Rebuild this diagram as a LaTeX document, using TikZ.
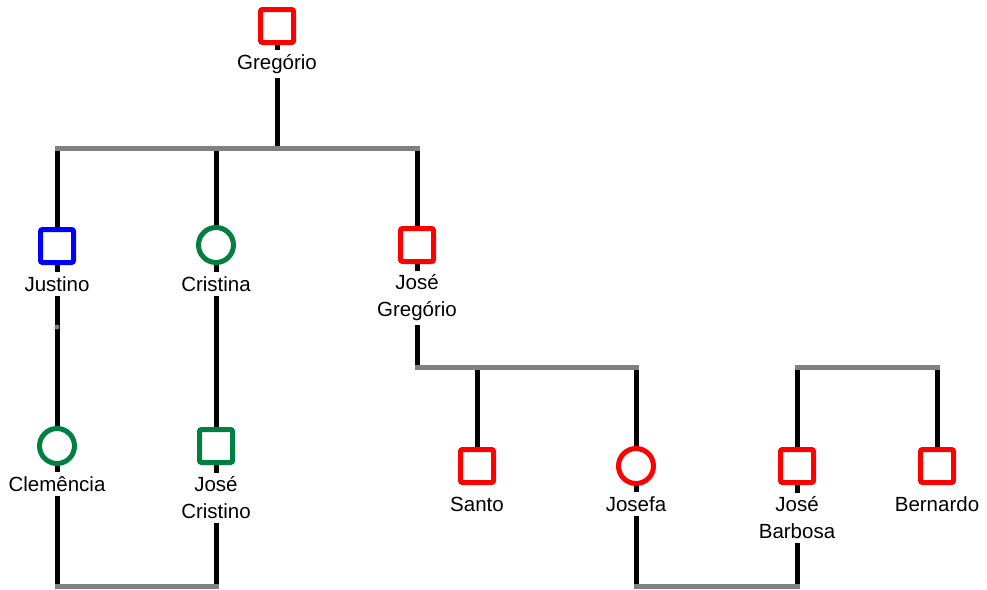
\documentclass[tikz,border=0pt]{standalone}
\usepackage{fontspec}
\setmainfont{Liberation Sans}
\pgfdeclarelayer{background}
\pgfsetlayers{background,main}
\definecolor{kred}{RGB}{255,0,0}
\definecolor{kblue}{RGB}{0,0,255}
\definecolor{kgreen}{RGB}{0,128,64}
\definecolor{kgray}{RGB}{128,128,128}
\begin{document}
\begin{tikzpicture}[x=1pt,y=-1pt,
  male/.style={draw=#1,rectangle,line width=5pt,minimum size=33pt,rounded corners=2pt,fill=white,inner sep=0pt},
  female/.style={draw=#1,circle,line width=5pt,minimum size=35pt,fill=white,inner sep=0pt},
  plabel/.style={fill=white,inner sep=4pt,align=center,font=\fontsize{20.5}{27}\selectfont},
  kin/.style={line width=5pt,black},
  bar/.style={line width=5pt,kgray,line cap=rect}
]
\useasboundingbox (0,0) rectangle (987,589);

% people
\node[male=kred] (G) at (277,26) {};
\node[plabel] (lG) at (277,64) {Gregório};
\node[male=kblue] (J) at (57,246) {};
\node[plabel] (lJ) at (57,284) {Justino};
\node[female=kgreen] (C) at (216,245) {};
\node[plabel] (lC) at (216,284) {Cristina};
\node[male=kred] (JG) at (417,245) {};
\node[plabel] (lJG) at (417,298) {José\\Gregório};
\node[female=kgreen] (Cl) at (57,446) {};
\node[plabel] (lCl) at (57,484) {Clemência};
\node[male=kgreen] (JC) at (216,446) {};
\node[plabel] (lJC) at (216,498) {José\\Cristino};
\node[male=kred] (S) at (477,466) {};
\node[plabel] (lS) at (477,504) {Santo};
\node[female=kred] (Jo) at (636,466) {};
\node[plabel] (lJo) at (636,504) {Josefa};
\node[male=kred] (JB) at (797,466) {};
\node[plabel] (lJB) at (797,518) {José\\Barbosa};
\node[male=kred] (B) at (937,466) {};
\node[plabel] (lB) at (937,504) {Bernardo};

% junctions on the sibling and couple bars
\coordinate (g0) at (277,148);
\coordinate (t1) at (57,148);
\coordinate (t2) at (216,148);
\coordinate (t3) at (417,148);
\coordinate (s1) at (417,367);
\coordinate (s2) at (477,367);
\coordinate (s3) at (636,367);
\coordinate (r1) at (797,367);
\coordinate (r2) at (937,367);
\coordinate (m1) at (57,586);
\coordinate (m2) at (216,586);
\coordinate (m3) at (636,586);
\coordinate (m4) at (797,586);
\coordinate (dot) at (57,327);

\begin{pgfonlayer}{background}
  % descent lines
  \draw[kin] (G.center) -- (g0);
  \draw[kin] (t1) -- (J.center) -- (Cl.center) -- (m1);
  \draw[kin] (t2) -- (C.center) -- (JC.center) -- (m2);
  \draw[kin] (t3) -- (JG.center) -- (s1);
  \draw[kin] (s2) -- (S.center);
  \draw[kin] (s3) -- (Jo.center) -- (m3);
  \draw[kin] (r1) -- (JB.center) -- (m4);
  \draw[kin] (r2) -- (B.center);
  % bars
  \draw[bar] (t1) -- (t3);
  \draw[bar] (s1) -- (s3);
  \draw[bar] (r1) -- (r2);
  \draw[bar] (m1) -- (m2);
  \draw[bar] (m3) -- (m4);
  \fill[kgray] (dot) circle (2.5pt);
\end{pgfonlayer}
\end{tikzpicture}
\end{document}
